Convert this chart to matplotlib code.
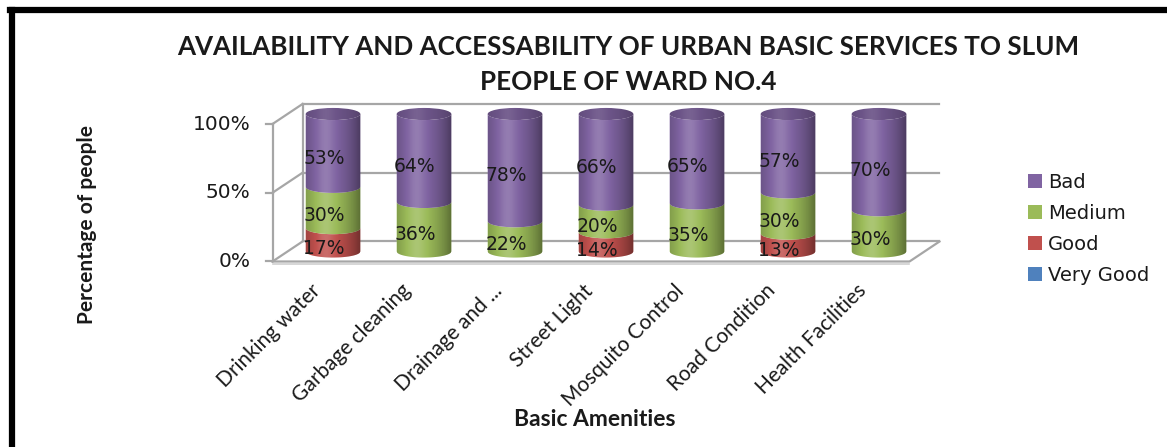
import numpy as np
import matplotlib
matplotlib.use("Agg")
import matplotlib.pyplot as plt
from matplotlib.patches import Polygon, Ellipse, Patch
from matplotlib.lines import Line2D

# ---------------- data ----------------
categories = ["Drinking water", "Garbage cleaning", "Drainage and ...", "Street Light",
              "Mosquito Control", "Road Condition", "Health Facilities"]
very_good = [0, 0, 0, 0, 0, 0, 0]
good = [17, 0, 0, 14, 0, 13, 0]
medium = [30, 36, 22, 20, 35, 30, 30]
bad = [53, 64, 78, 66, 65, 57, 70]
series_names = ["Very Good", "Good", "Medium", "Bad"]
series_values = [very_good, good, medium, bad]
series_colors = ["#4F81BD", "#C0504D", "#9BBB59", "#8064A2"]
yticks = [0, 50, 100]
ytick_labels = ["0%", "50%", "100%"]
title = "AVAILABILITY AND ACCESSABILITY OF URBAN BASIC SERVICES TO SLUM\nPEOPLE OF WARD NO.4"
xlabel = "Basic Amenities"
ylabel = "Percentage of people"

# ---------------- layout ----------------
W, H = 1167, 447
fig = plt.figure(figsize=(W / 100, H / 100), dpi=100)
fig.patch.set_facecolor("white")

px_unit = 91.0      # px per category
px_pct = 1.375      # px per percent
x0_px, y0_px = 333.0, 251.5   # pixel position of category 0 / 0% at cylinder plane
xlim = (-0.9, 7.0)
ylim = (-12, 112)
left_px = x0_px + xlim[0] * px_unit
right_px = x0_px + xlim[1] * px_unit
bot_px = y0_px - ylim[0] * px_pct
top_px = y0_px - ylim[1] * px_pct
ax = fig.add_axes([left_px / W, 1 - bot_px / H, (right_px - left_px) / W, (bot_px - top_px) / H])
ax.set_xlim(*xlim)
ax.set_ylim(*ylim)
ax.axis("off")

dx = 15.0 / px_unit        # half depth offset (x)
dy = 10.0 / px_pct         # half depth offset (y)
n = len(categories)
xl, xr = -0.5, n - 0.5
grid_c = "#a6a6a6"
lw = 1.6

# back wall gridlines
for v in yticks:
    ax.plot([xl + dx, xr + dx], [v + dy, v + dy], color=grid_c, lw=lw, zorder=1, clip_on=False)
    ax.plot([xl - dx, xl + dx], [v - dy, v + dy], color=grid_c, lw=lw, zorder=1, clip_on=False)
ax.plot([xl + dx, xl + dx], [yticks[0] + dy, yticks[-1] + dy], color=grid_c, lw=lw, zorder=1)
ax.plot([xl - dx, xl - dx], [yticks[0] - dy, yticks[-1] - dy], color=grid_c, lw=lw, zorder=1)
for v, lab in zip(yticks, ytick_labels):
    ax.plot([xl - dx - 7 / px_unit, xl - dx], [v - dy, v - dy], color=grid_c, lw=lw, zorder=1)
    ax.text(xl - dx - 22 / px_unit, v - dy, lab, ha="right", va="center",
            fontsize=14.5, family="DejaVu Sans", color="#1a1a1a")
# floor
ax.plot([xl - dx, xr - dx, xr + dx], [-dy, -dy, dy], color=grid_c, lw=lw, zorder=1)
ax.plot([xl - dx, xr - dx], [-dy - 2.2 / px_pct, -dy - 2.2 / px_pct], color="#d0d0d0", lw=1.2, zorder=1)

# cylinders
bw = 0.6
eh = 8.8
ts = np.linspace(0, 1, 100)


def shade_rgba():
    t = np.linspace(0, 1, 200)
    dark = 0.42 * np.clip(np.abs(t - 0.38) / 0.62, 0, 1) ** 2
    light = 0.16 * np.exp(-((t - 0.36) / 0.16) ** 2)
    rgba = np.zeros((1, t.size, 4))
    col = np.where(light > dark, 1.0, 0.0)
    rgba[0, :, 0] = col
    rgba[0, :, 1] = col
    rgba[0, :, 2] = col
    rgba[0, :, 3] = np.abs(light - dark)
    return rgba


SHADE = shade_rgba()


def lower_arc(xc, yv, reverse=False):
    xs = xc - bw / 2 + bw * ts
    ys = yv - (eh / 2) * np.sqrt(np.clip(1 - ((xs - xc) / (bw / 2)) ** 2, 0, 1))
    pts = np.column_stack([xs, ys])
    return pts[::-1] if reverse else pts


def darker(c, f=0.82):
    rgb = np.array(matplotlib.colors.to_rgb(c))
    return tuple(rgb * f)


for i in range(n):
    xc = i
    base = 0.0
    top_color = None
    for s_vals, col in zip(series_values, series_colors):
        v = s_vals[i]
        if v <= 0:
            continue
        b, t = base, base + v
        pts = np.vstack([lower_arc(xc, b), lower_arc(xc, t, reverse=True)])
        poly = Polygon(pts, closed=True, facecolor=col, edgecolor="none", zorder=3)
        ax.add_patch(poly)
        im = ax.imshow(SHADE, extent=[xc - bw / 2, xc + bw / 2, b - eh, t + eh],
                       aspect="auto", zorder=3.5, interpolation="bilinear")
        im.set_clip_path(poly)
        base = t
        top_color = col
    if top_color is not None:
        cap = Ellipse((xc, base), bw, eh, facecolor=darker(top_color, 0.84), edgecolor="none", zorder=4)
        ax.add_patch(cap)
        im = ax.imshow(SHADE, extent=[xc - bw / 2, xc + bw / 2, base - eh, base + eh],
                       aspect="auto", zorder=4.5, interpolation="bilinear", alpha=0.5)
        im.set_clip_path(cap)

# data labels
for i in range(n):
    base = 0.0
    for s_vals in series_values:
        v = s_vals[i]
        if v <= 0:
            continue
        ax.text(i - 9 / px_unit, base + v / 2 - 6.0, f"{v}%", ha="center", va="center",
                fontsize=13.5, family="DejaVu Sans", color="#1a1a1a", zorder=6)
        base += v

# category labels
for i, lab in enumerate(categories):
    ax.text(i - dx - 8 / px_unit, -dy - 19 / px_pct, lab, rotation=45, rotation_mode="anchor",
            ha="right", va="top", fontsize=15, family="Lato", color="#1a1a1a", clip_on=False)

ax.set_xlim(*xlim)
ax.set_ylim(*ylim)

# titles
fig.text(628 / W, 1 - 64.5 / H, title, ha="center", va="center", fontsize=18.7,
         family="Lato", weight="bold", linespacing=1.52, color="#1a1a1a")
fig.text(595 / W, 1 - 419 / H, xlabel, ha="center", va="center", fontsize=16.5,
         family="Lato", weight="bold", color="#1a1a1a")
fig.text(87 / W, 1 - 224 / H, ylabel, ha="center", va="center", fontsize=15,
         family="Lato", weight="bold", rotation=90, color="#1a1a1a")

# legend
handles = [Patch(facecolor=c, edgecolor="none") for c in series_colors[::-1]]
fig.legend(handles, series_names[::-1], loc="upper left",
           bbox_to_anchor=(1010 / W, 1 - 155 / H), frameon=False,
           prop={"family": "DejaVu Sans", "size": 14},
           handlelength=0.75, handleheight=0.75, handletextpad=0.3, labelspacing=0.62,
           labelcolor="#1a1a1a")

# border (top and left visible)
fig.add_artist(Line2D([12 / W, 12 / W], [-0.05, 1 - 10 / H], color="black", lw=4.5,
                      transform=fig.transFigure))
fig.add_artist(Line2D([10 / W, 1.05], [1 - 10 / H, 1 - 10 / H], color="black", lw=4.5,
                      transform=fig.transFigure))

fig.savefig("out.png", dpi=100, facecolor="white")
